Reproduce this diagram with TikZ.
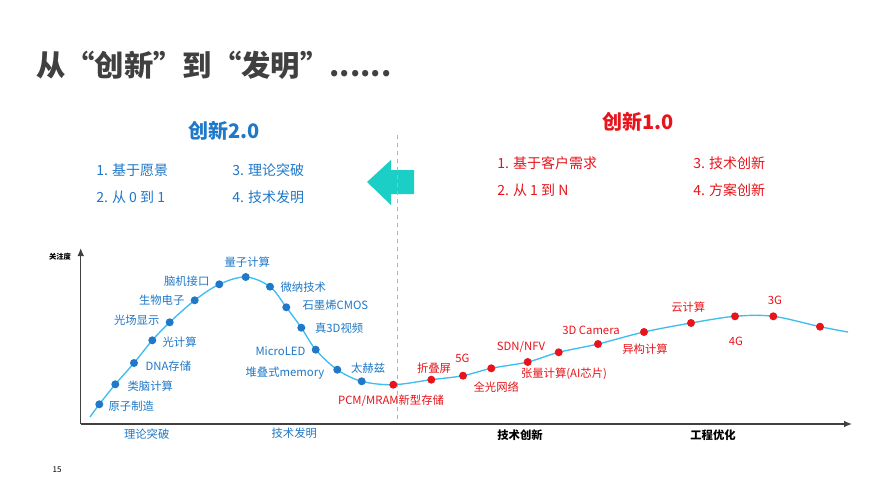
\documentclass[tikz,border=0pt]{standalone}
\usepackage{fontspec}
\setmainfont{Noto Sans CJK SC}
\usetikzlibrary{arrows.meta}
\definecolor{tblue}{HTML}{1F78C8}
\definecolor{tred}{HTML}{E8141B}
\definecolor{curve}{HTML}{3DBDF0}
\definecolor{teal}{HTML}{1CCFC6}
\definecolor{dgray}{HTML}{404040}
\begin{document}
\begin{tikzpicture}[x=0.75pt,y=-0.75pt,
  bdot/.style={circle,fill=tblue,inner sep=0,minimum size=6pt},
  rdot/.style={circle,fill=tred,inner sep=0,minimum size=6pt},
  bl/.style={text=tblue,font=\fontsize{8.5}{10}\selectfont,inner sep=1pt},
  rl/.style={text=tred,font=\fontsize{8.5}{10}\selectfont,inner sep=1pt},
  lst/.style={font=\fontsize{10.5}{12}\selectfont,anchor=west,inner sep=0},
  ax/.style={font=\fontsize{8.5}{10}\selectfont,inner sep=0}]
\useasboundingbox (0,0) rectangle (889,500);
\fill[white] (0,0) rectangle (889,500);
\node[anchor=west,text=dgray,font=\fontsize{22}{26}\bfseries\selectfont,inner sep=0] (title) at (36,65) {从“创新”到“发明”......};
\node[text=tblue,font=\fontsize{15}{18}\bfseries\selectfont] (c2) at (224,131) {创新2.0};
\node[text=tred,font=\fontsize{15}{18}\bfseries\selectfont] (c1) at (638,122) {创新1.0};
\node[lst,text=tblue] (b1) at (96,170) {1. 基于愿景};
\node[lst,text=tblue] (b3) at (232,170) {3. 理论突破};
\node[lst,text=tblue] (b2) at (96,197) {2. 从 0 到 1};
\node[lst,text=tblue] (b4) at (232,197) {4. 技术发明};
\node[lst,text=tred] (r1) at (497,163) {1. 基于客户需求};
\node[lst,text=tred] (r3) at (693,163) {3. 技术创新};
\node[lst,text=tred] (r2) at (497,190) {2. 从 1 到 N};
\node[lst,text=tred] (r4) at (693,190) {4. 方案创新};
\fill[teal] (367,182) -- (391,160) -- (391,170) -- (414,170) -- (414,194) -- (391,194) -- (391,205) -- cycle;
\draw[gray!60,dashed] (397,135) -- (397,420);
% axes
\coordinate (o) at (80.7,424);
\coordinate (yt) at (80.7,248);
\coordinate (xe) at (852,424);
\draw[dgray,line width=1pt,-{Latex[length=6pt,width=5pt]}] (o) -- (yt);
\draw[dgray,line width=1pt,-{Latex[length=6pt,width=5pt]}] (o) -- (xe);
\node[font=\fontsize{5.5}{6}\bfseries\selectfont,inner sep=0] (yl) at (60,257) {关注度};
\node[ax,text=tblue] (a1) at (146.7,434.5) {理论突破};
\node[ax,text=tblue] (a2) at (294.3,433) {技术发明};
\node[ax,font=\fontsize{8.5}{10}\bfseries\selectfont] (a3) at (520,435) {技术创新};
\node[ax,font=\fontsize{8.5}{10}\bfseries\selectfont] (a4) at (713,435) {工程优化};
\node[font=\fontsize{6}{7}\selectfont,inner sep=0] (pg) at (57,470) {15};
% curve
\draw[curve,line width=1pt] plot[smooth,tension=0.55] coordinates {(90,417) (99.3,404.3) (115.3,384.3) (134,363) (152.3,340.3) (169.7,322.3) (194.7,300.3) (219.3,284.3) (245.7,277) (270,286.7) (286.3,307.3) (301.3,327.7) (315.7,349.7) (337.3,369.7) (361.7,381.3) (393.3,384.7) (431.3,379.7) (463,375.7) (491.3,368.3) (527.7,362) (558.7,352.3) (598,344) (644,332) (691,323) (735,316.3) (773.3,316.3) (820,326.7) (848,332)};
% blue dots
\node[bdot] (d1) at (99.3,404.3) {};
\node[bdot] (d2) at (115.3,384.3) {};
\node[bdot] (d3) at (134,363) {};
\node[bdot] (d4) at (152.3,340.3) {};
\node[bdot] (d5) at (169.7,322.3) {};
\node[bdot] (d6) at (194.7,300.3) {};
\node[bdot] (d7) at (219.3,284.3) {};
\node[bdot] (d8) at (245.7,277) {};
\node[bdot] (d9) at (270,286.7) {};
\node[bdot] (d10) at (286.3,307.3) {};
\node[bdot] (d11) at (301.3,327.7) {};
\node[bdot] (d12) at (315.7,349.7) {};
\node[bdot] (d13) at (337.3,369.7) {};
\node[bdot] (d14) at (361.7,381.3) {};
\node[bl,anchor=west] (l1) at (107,405.7) {原子制造};
\node[bl,anchor=west] (l2) at (126,386) {类脑计算};
\node[bl,anchor=west] (l3) at (144,366) {DNA存储};
\node[bl,anchor=west] (l4) at (161,341.7) {光计算};
\node[bl,anchor=east] (l5) at (161,320) {光场显示};
\node[bl,anchor=east] (l6) at (186,300.3) {生物电子};
\node[bl,anchor=east] (l7) at (211,281) {脑机接口};
\node[bl] (l8) at (247.3,262) {量子计算};
\node[bl,anchor=west] (l9) at (279,286.7) {微纳技术};
\node[bl,anchor=west] (l10) at (301,305) {石墨烯CMOS};
\node[bl,anchor=west] (l11) at (313.5,328.3) {真3D视频};
\node[bl,anchor=east] (l12) at (307,351) {MicroLED};
\node[bl,anchor=east] (l13) at (326,373.3) {堆叠式memory};
\node[bl,anchor=west] (l14) at (349.5,367.7) {太赫兹};
% red dots
\node[rdot] (e1) at (393.3,384.7) {};
\node[rdot] (e2) at (431.3,379.7) {};
\node[rdot] (e3) at (463,375.7) {};
\node[rdot] (e4) at (491.3,368.3) {};
\node[rdot] (e5) at (527.7,362) {};
\node[rdot] (e6) at (558.7,352.3) {};
\node[rdot] (e7) at (598,344) {};
\node[rdot] (e8) at (644,332) {};
\node[rdot] (e9) at (691,323) {};
\node[rdot] (e10) at (735,316.3) {};
\node[rdot] (e11) at (773.3,316.3) {};
\node[rdot] (e12) at (820,326.7) {};
\node[rl] (m1) at (391,401) {PCM/MRAM新型存储};
\node[rl] (m2) at (434,367.7) {折叠屏};
\node[rl] (m3) at (462.3,358) {5G};
\node[rl] (m4) at (496.3,387.3) {全光网络};
\node[rl] (m5) at (564,374.3) {张量计算(AI芯片)};
\node[rl] (m6) at (521,347.3) {SDN/NFV};
\node[rl] (m7) at (591,330) {3D Camera};
\node[rl] (m8) at (645,349.3) {异构计算};
\node[rl] (m9) at (688.3,307.3) {云计算};
\node[rl] (m10) at (736,341.3) {4G};
\node[rl] (m11) at (775,300.7) {3G};
\end{tikzpicture}
\end{document}
